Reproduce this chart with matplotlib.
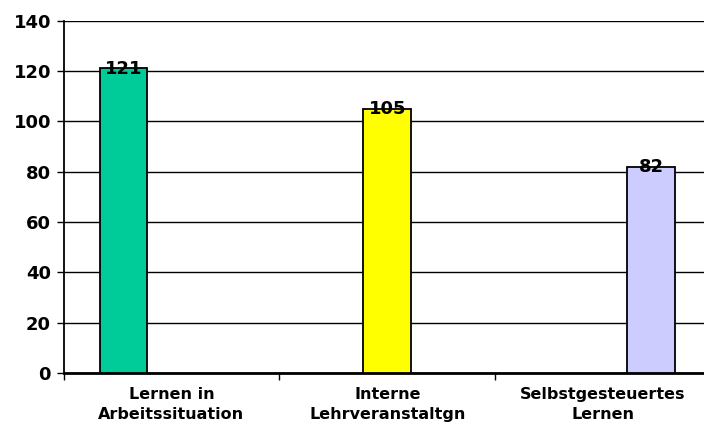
import matplotlib
matplotlib.use("Agg")
import matplotlib.pyplot as plt

categories = ["Lernen in\nArbeitssituation", "Interne\nLehrveranstaltgn", "Selbstgesteuertes\nLernen"]
values = [121, 105, 82]
colors = ["#00CC99", "#FFFF00", "#CCCCFF"]
yticks = [0, 20, 40, 60, 80, 100, 120, 140]

plt.rcParams['font.family'] = ['DejaVu Sans']

fig = plt.figure(figsize=(7.04, 4.29), dpi=100)
W, H = 704, 429
left, right, top, bottom = 63.5, 711, 20.5, 373
ax = fig.add_axes([left / W, (H - bottom) / H, (right - left) / W, (bottom - top) / H])

n = len(values)
bw = 0.222
for i, (v, c) in enumerate(zip(values, colors)):
    x = i + 0.5 + (i - 1) * bw
    ax.bar(x, v, width=bw, color=c, edgecolor="black", linewidth=1.3, zorder=3)
    ax.text(x, v - 0.2, str(v), ha="center", va="center", fontsize=13,
            fontweight="bold", zorder=4)

ax.set_xlim(0, n)
ax.set_ylim(0, 140)
ax.set_yticks(yticks)
ax.set_yticklabels([str(t) for t in yticks], fontsize=13, fontweight="bold")
ax.yaxis.grid(True, color="black", linewidth=1.0, zorder=0)
ax.set_axisbelow(True)

ax.set_xticks(range(n + 1))
ax.set_xticklabels([])
ax.set_xticks([i + 0.5 for i in range(n)], minor=True)
ax.set_xticklabels(categories, minor=True, fontsize=11.5, fontweight="bold", linespacing=1.45)
ax.tick_params(axis="x", which="minor", length=0, pad=10)
ax.tick_params(axis="x", which="major", length=5, width=1, direction="out", color="black")
ax.tick_params(axis="y", length=5, width=1, direction="out", pad=4)

for s in ["top", "right"]:
    ax.spines[s].set_visible(False)
ax.spines["left"].set_linewidth(1.3)
ax.spines["bottom"].set_linewidth(2.0)

fig.savefig("out.png", dpi=100)
